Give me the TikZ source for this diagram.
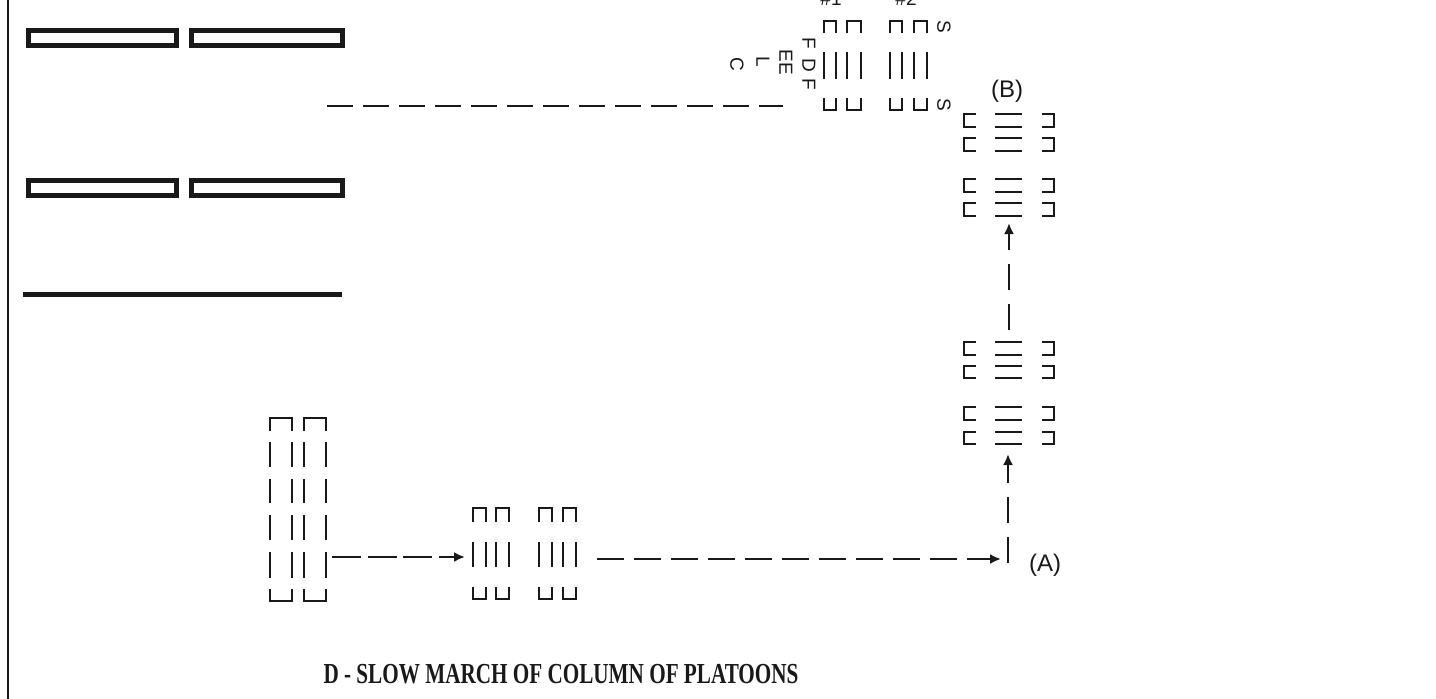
\documentclass[tikz,border=0pt]{standalone}
\usepackage{fontspec}
\setmainfont{Liberation Serif}
\setsansfont{Liberation Sans}
\usetikzlibrary{arrows.meta}
\tikzset{
  fig/.style={line width=2.8pt, line join=miter, line cap=butt, black!90},
  barbox/.style={line width=5pt, black!90},
  lbl/.style={inner sep=0pt, font=\sffamily\fontsize{19}{19}\selectfont, text=black!90},
  rlbl/.style={lbl, rotate=-90},
  ptlbl/.style={inner sep=0pt, font=\sffamily\fontsize{24}{24}\selectfont, text=black!90},
  tip/.style={-{Latex[length=11pt,width=10pt]}},
  dashA/.style={fig, dash pattern=on 26pt off 10pt},
  dashB/.style={fig, dash pattern=on 27pt off 10pt},
  dashC/.style={fig, dash pattern=on 29pt off 6.5pt},
  dashV/.style={fig, dash pattern=on 26pt off 14pt},
}
\begin{document}
\begin{tikzpicture}[x=1pt,y=-1pt]
\useasboundingbox (0,0) rectangle (1436,699);
% left border
\draw[line width=2.5pt, black!90] (8,0) -- (8,699);
% bars
\draw[barbox] (28.5,30.5) rectangle (176.5,45.5);
\draw[barbox] (191.5,30.5) rectangle (342.5,45.5);
\draw[barbox] (28.5,180.5) rectangle (176.5,195.5);
\draw[barbox] (191.5,180.5) rectangle (342.5,195.5);
\draw[barbox] (23,294.5) -- (342,294.5);

% top formation (platoons in line)
\foreach \a/\b in {824/836, 847/861, 890/902, 914/927}{
  \draw[fig] (\a,33) -- (\a,21) -- (\b,21) -- (\b,33);
  \draw[fig] (\a,98) -- (\a,110) -- (\b,110) -- (\b,98);
  \draw[fig] (\a,52) -- (\a,79);
  \draw[fig] (\b,52) -- (\b,79);
}
\node[lbl, anchor=base] (n1) at (831,5.5) {\#1};
\node[lbl, anchor=base] (n2) at (906,5.5) {\#2};
\node[rlbl] (s1) at (944,27) {S};
\node[rlbl] (s2) at (944,105) {S};
\node[rlbl] (f1) at (809,43) {F};
\node[rlbl] (d1) at (809,65) {D};
\node[rlbl] (f2) at (809,84) {F};
\node[rlbl] (ee) at (786,62.5) {EE};
\node[rlbl] (ll) at (763,62) {L};
\node[rlbl] (cc) at (737,64) {C};

% right column of platoons
\foreach \t/\u in {114/127, 138/151, 179/192, 203/216, 342/355, 366/378, 407/420, 432/444}{
  \draw[fig] (976,\t) -- (964,\t) -- (964,\u) -- (976,\u);
  \draw[fig] (1042,\t) -- (1054,\t) -- (1054,\u) -- (1042,\u);
  \draw[fig] (995,\t) -- (1022,\t);
  \draw[fig] (995,\u) -- (1022,\u);
}
\node[ptlbl] (B) at (1007,91) {(B)};
\node[ptlbl] (A) at (1045,565) {(A)};

% bottom-left column formation
\foreach \a/\b in {270/292, 304/326}{
  \draw[fig] (\a,431) -- (\a,418) -- (\b,418) -- (\b,431);
  \draw[fig] (\a,589) -- (\a,601) -- (\b,601) -- (\b,589);
  \foreach \r/\s in {442/467, 479/503, 515/540, 552/578}{
    \draw[fig] (\a,\r) -- (\a,\s);
    \draw[fig] (\b,\r) -- (\b,\s);
  }
}

% bottom platoons in line
\foreach \a/\b in {473/486, 496/509, 539/552, 563/576}{
  \draw[fig] (\a,522) -- (\a,508) -- (\b,508) -- (\b,522);
  \draw[fig] (\a,587) -- (\a,599) -- (\b,599) -- (\b,587);
  \draw[fig] (\a,542) -- (\a,567);
  \draw[fig] (\b,542) -- (\b,567);
}

% connector end points
\coordinate (topS) at (327,106);
\coordinate (topE) at (783,106);
\coordinate (colR) at (332,557);
\coordinate (platL) at (465,557);
\coordinate (platR) at (597,559);
\coordinate (ptA) at (1001,559);
\coordinate (v2s) at (1008,563);
\coordinate (v2e) at (1008,454);
\coordinate (v1s) at (1009,330);
\coordinate (v1e) at (1009,223);

\draw[dashA] (topS) -- (topE);
\draw[dashC, tip] (colR) -- (platL);
\draw[dashB, tip] (platR) -- (ptA);
\draw[dashV, tip] (v2s) -- (v2e);
\draw[dashV, tip] (v1s) -- (v1e);

% title
\node[inner sep=0pt, anchor=base, xscale=0.73, font=\bfseries\fontsize{29}{29}\selectfont, text=black!90] (title) at (561,683) {D - SLOW MARCH OF COLUMN OF PLATOONS};
\end{tikzpicture}
\end{document}
